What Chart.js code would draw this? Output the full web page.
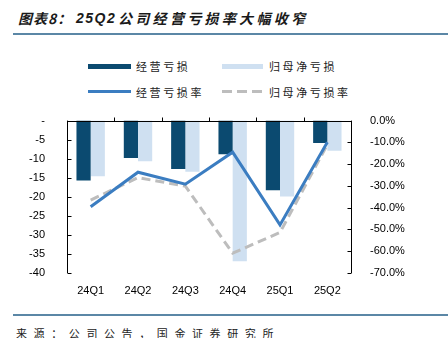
<!DOCTYPE html>
<html>
<head>
<meta charset="utf-8">
<script src="https://cdn.jsdelivr.net/npm/chart.js@4.4.1/dist/chart.umd.min.js"></script>
<style>
  body { margin:0; width:448px; height:338px; position:relative; background:#fff; overflow:hidden;
         font-family:"Noto Sans CJK SC", sans-serif; color:#222; }
  .title { position:absolute; top:8px; font-size:14px; line-height:20px; font-weight:bold;
           font-style:italic; color:#1a1a1a; white-space:nowrap; }
  .rule { position:absolute; left:13px; width:435px; background:#5b87a6; }
  .lg { position:absolute; font-size:11px; line-height:14px; letter-spacing:2.6px; color:#222; white-space:nowrap; }
  .sw { position:absolute; }
  .src { position:absolute; left:16px; top:326px; font-size:11px; line-height:14px; letter-spacing:6.6px; color:#222; white-space:nowrap; }
  #box { position:absolute; left:0; top:100px; width:448px; height:200px; }
</style>
</head>
<body>
<div class="title" style="left:18px;letter-spacing:1px">图表8：</div>
<div class="title" style="left:76px;letter-spacing:1.5px;font-family:'Liberation Sans',sans-serif">25Q2</div>
<div class="title" style="left:118px;letter-spacing:3.3px">公司经营亏损率大幅收窄</div>
<div class="rule" style="top:33px;height:2px"></div>

<!-- legend -->
<div class="sw" style="left:88px;top:64px;width:43px;height:5px;background:#0b4a70"></div>
<div class="lg" style="left:136px;top:59px">经营亏损</div>
<div class="sw" style="left:222px;top:64px;width:41px;height:5px;background:#cfe0f1"></div>
<div class="lg" style="left:269px;top:59px">归母净亏损</div>
<div class="sw" style="left:88px;top:90px;width:43px;height:3px;background:#3b7dc1"></div>
<div class="lg" style="left:136px;top:85px">经营亏损率</div>
<div class="sw" style="left:222px;top:90px;width:10px;height:3px;background:#bdbdbd"></div>
<div class="sw" style="left:237px;top:90px;width:10px;height:3px;background:#bdbdbd"></div>
<div class="sw" style="left:252px;top:90px;width:10px;height:3px;background:#bdbdbd"></div>
<div class="lg" style="left:269px;top:85px">归母净亏损率</div>

<div id="box"><canvas id="chart"></canvas></div>

<div class="rule" style="top:314px;height:2px"></div>
<div class="src">来源：公司公告，国金证券研究所</div>

<script>
// quarters
const quarters = ['24Q1', '24Q2', '24Q3', '24Q4', '25Q1', '25Q2'];
// 经营亏损 / 归母净亏损 (left axis)
const opLoss = [-15.7, -9.8, -12.7, -8.8, -18.3, -5.9];
const netLoss = [-14.6, -10.7, -13.4, -36.9, -19.9, -7.9];
// loss rates in % (right axis)
const opLossRate = [-39.6, -23.7, -29.2, -14.5, -47.9, -9.9];
const netLossRate = [-36.5, -26.2, -30.1, -60.9, -51.4, -11.0];

const tickFont = { family: 'Liberation Sans', size: 11 };

// draws the zero line with its upward ticks and the two side axes with inward ticks
const axesPlugin = {
  id: 'axesPlugin',
  afterDraw(chart) {
    const ctx = chart.ctx;
    const a = chart.chartArea;
    const y = chart.scales.y, y1 = chart.scales.y1;
    const y0 = Math.round(y.getPixelForValue(0)) + 0.5;
    const L = Math.round(a.left) + 0.5, R = Math.round(a.right) + 0.5;
    ctx.save();
    ctx.strokeStyle = '#000';
    ctx.lineWidth = 1;
    ctx.beginPath();
    ctx.moveTo(L, y0); ctx.lineTo(R, y0);
    const w = (a.right - a.left) / quarters.length;
    for (let i = 1; i < quarters.length; i++) {
      const xx = Math.round(a.left + w * i) + 0.5;
      ctx.moveTo(xx, y0); ctx.lineTo(xx, y0 - 4);
    }
    ctx.moveTo(L, y.getPixelForValue(0)); ctx.lineTo(L, y.getPixelForValue(-40));
    y.ticks.forEach(t => {
      const yy = Math.round(y.getPixelForValue(t.value)) + 0.5;
      ctx.moveTo(L, yy); ctx.lineTo(L + 4, yy);
    });
    ctx.moveTo(R, y1.getPixelForValue(0)); ctx.lineTo(R, y1.getPixelForValue(-70));
    y1.ticks.forEach(t => {
      const yy = Math.round(y1.getPixelForValue(t.value)) + 0.5;
      ctx.moveTo(R, yy); ctx.lineTo(R - 4, yy);
    });
    ctx.stroke();
    ctx.restore();
  }
};

new Chart(document.getElementById('chart'), {
  type: 'bar',
  data: {
    labels: quarters,
    datasets: [
      { type: 'line', label: '经营亏损率', data: opLossRate, yAxisID: 'y1', borderColor: '#3b7dc1',
        borderWidth: 3, pointRadius: 0, tension: 0, order: 0 },
      { type: 'line', label: '归母净亏损率', data: netLossRate, yAxisID: 'y1', borderColor: '#bdbdbd',
        borderWidth: 3, borderDash: [9, 5], pointRadius: 0, tension: 0, order: 1 },
      { label: '经营亏损', data: opLoss, yAxisID: 'y', backgroundColor: '#0b4a70', order: 2,
        categoryPercentage: 0.6, barPercentage: 1 },
      { label: '归母净亏损', data: netLoss, yAxisID: 'y', backgroundColor: '#cfe0f1', order: 2,
        categoryPercentage: 0.6, barPercentage: 1 }
    ]
  },
  options: {
    responsive: true,
    maintainAspectRatio: false,
    animation: false,
    layout: { padding: { top: 20, left: 0, right: 0, bottom: 0 } },
    plugins: { legend: { display: false }, tooltip: { enabled: false } },
    scales: {
      x: {
        grid: { display: false }, border: { display: false },
        ticks: { font: tickFont, color: '#000', padding: 3 },
        afterFit(s) { s.height = 27; }
      },
      y: {
        position: 'left', min: -40, max: 0,
        grid: { display: false }, border: { display: false },
        ticks: { stepSize: 5, font: tickFont, color: '#000', padding: 14,
                 callback: v => v === 0 ? '-' : v },
        afterFit(s) { s.width = 67; }
      },
      y1: {
        position: 'right', min: -70, max: 0,
        grid: { display: false }, border: { display: false },
        ticks: { stepSize: 10, font: tickFont, color: '#000', padding: 11,
                 callback: v => v.toFixed(1) + '%' },
        afterFit(s) { s.width = 97; }
      }
    }
  },
  plugins: [axesPlugin]
});
</script>
</body>
</html>
